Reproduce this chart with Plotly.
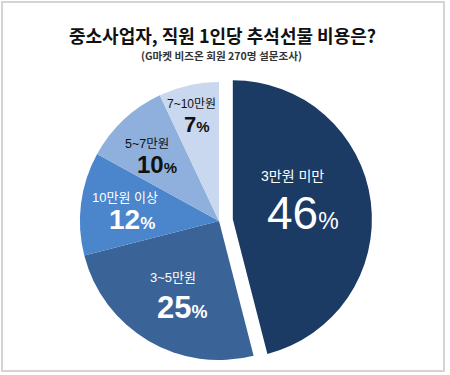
import math
import plotly.graph_objects as go

# ---- data ----
categories = ["3만원 미만", "3~5만원", "10만원 이상", "5~7만원", "7~10만원"]
values = [46, 25, 12, 10, 7]
colors = ["#1b3a64", "#3a6397", "#4b85cb", "#8fafdc", "#c9d8ee"]
pulls = [0.1, 0, 0, 0, 0]

title_text = "중소사업자, 직원 1인당 추석선물 비용은?"
subtitle_text = "(G마켓 비즈온 회원 270명 설문조사)"

# ---- label styling (per slice) ----
label_radius = [0.50, 0.59, 0.657, 0.68, 0.786]
label_angle_shift = [-13.5, -0.6, 0.4, -1.8, -0.4]  # degrees
half_gap = [18.5, 15, 11, 10, 10.5]
label_dx = [-5, -5, -3.5, -5, -2.5]
value_dx = [5, 5, 3.5, 5, 2.5]
label_colors = ["white", "white", "white", "#111111", "#111111"]
label_sizes = [14, 13, 13, 12.5, 12]
value_sizes = [46, 31, 28, 24, 22]
pct_sizes = [23, 18, 17, 15, 15]
value_bold = [False, True, True, True, True]

W, H = 450, 375
dom_x = [0.1467, 0.8267]
dom_y = [0.0027, 0.8187]

fig = go.Figure(go.Pie(
    labels=categories,
    values=values,
    marker=dict(colors=colors, line=dict(width=0)),
    pull=pulls,
    sort=False,
    direction="clockwise",
    rotation=0,
    textinfo="none",
    hoverinfo="label+percent",
    domain=dict(x=dom_x, y=dom_y),
    showlegend=False,
))

# pie geometry (mirrors plotly's own layout of the pie)
box_w = W * (dom_x[1] - dom_x[0])
box_h = H * (dom_y[1] - dom_y[0])
r = min(box_w, box_h) / 2 / (1 + max(pulls))
cx = W * (dom_x[0] + dom_x[1]) / 2
cy = H * (1 - dom_y[0]) - box_h / 2  # from top

total = sum(values)
cum = 0
annotations = []
for i, v in enumerate(values):
    mid = (cum + v / 2) / total * 2 * math.pi
    cum += v
    pcx = cx + pulls[i] * r * math.sin(mid)
    pcy = cy - pulls[i] * r * math.cos(mid)
    ang = mid + math.radians(label_angle_shift[i])
    px = pcx + label_radius[i] * r * math.sin(ang)
    py = pcy - label_radius[i] * r * math.cos(ang)
    xp = px / W
    yp = 1 - py / H
    annotations.append(dict(
        x=xp, y=yp, xref="paper", yref="paper", showarrow=False,
        xanchor="center", yanchor="middle",
        text=categories[i], yshift=half_gap[i], xshift=label_dx[i],
        font=dict(family="Liberation Sans, Noto Sans CJK KR", size=label_sizes[i], color=label_colors[i]),
    ))
    if value_bold[i]:
        txt = f"<b>{v}<span style='font-size:{pct_sizes[i]}px'>%</span></b>"
    else:
        txt = f"{v}<span style='font-size:{pct_sizes[i]}px'>%</span>"
    annotations.append(dict(
        x=xp, y=yp, xref="paper", yref="paper", showarrow=False,
        xanchor="center", yanchor="middle",
        text=txt, yshift=-half_gap[i], xshift=value_dx[i],
        font=dict(family="Liberation Sans, Arial, sans-serif", size=value_sizes[i], color=label_colors[i]),
    ))

annotations.append(dict(
    x=222 / W, y=1 - 35 / H, xref="paper", yref="paper", showarrow=False,
    xanchor="center", yanchor="middle",
    text=f"<b>{title_text}</b>",
    font=dict(family="Noto Sans CJK KR", size=18, color="#111111"),
))
annotations.append(dict(
    x=221 / W, y=1 - 56 / H, xref="paper", yref="paper", showarrow=False,
    xanchor="center", yanchor="middle",
    text=f"<b>{subtitle_text}</b>",
    font=dict(family="Noto Sans CJK KR", size=10.6, color="#333333"),
))

fig.update_layout(
    width=W, height=H,
    margin=dict(l=0, r=0, t=0, b=0),
    paper_bgcolor="white",
    plot_bgcolor="white",
    annotations=annotations,
    shapes=[dict(type="rect", xref="paper", yref="paper",
                 x0=2 / W, x1=444 / W, y0=1 - 371 / H, y1=1 - 2 / H,
                 line=dict(color="#d4d4d4", width=2), fillcolor="rgba(0,0,0,0)")],
)

fig.write_html(
    "out.html",
    config={"displayModeBar": False},
    post_script="document.body.style.margin='0';document.body.style.overflow='hidden';",
)
